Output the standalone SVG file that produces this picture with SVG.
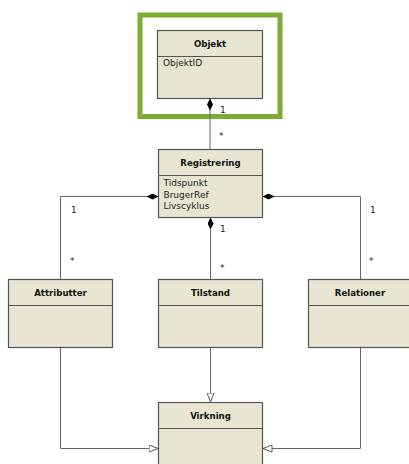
<svg xmlns="http://www.w3.org/2000/svg" width="409" height="464" viewBox="0 0 409 464">
<style>
.box{fill:#E8E5D3;stroke:#555;stroke-width:1.2}
.div{stroke:#555;stroke-width:1.2}
.hd{font-family:"DejaVu Sans",Verdana,sans-serif;font-weight:bold;font-size:8.6px;fill:#111;text-anchor:middle}
.at{font-family:"DejaVu Sans",Verdana,sans-serif;font-size:9px;fill:#222}
.ml{font-family:"DejaVu Sans",Verdana,sans-serif;font-size:9px;fill:#222}
.ln{fill:none;stroke:#666;stroke-width:1}
</style>
<defs>
<marker id="dia" viewBox="0 0 12 6" refX="0" refY="3" markerWidth="12" markerHeight="6" markerUnits="userSpaceOnUse" orient="auto">
<path d="M0,3 L6,0 L12,3 L6,6 Z" fill="#000"/>
</marker>
<marker id="tri" viewBox="0 0 10 8" refX="10" refY="4" markerWidth="10" markerHeight="8" markerUnits="userSpaceOnUse" orient="auto">
<path d="M0.5,0.5 L9.5,4 L0.5,7.5 Z" fill="#fff" stroke="#555" stroke-width="1"/>
</marker>
</defs>
<rect x="140" y="15" width="140" height="101.5" fill="none" stroke="#7BAD33" stroke-width="5"/>
<g id="connectors">
<path class="ln" d="M210,98.5 L210,149.5" marker-start="url(#dia)"/>
<path class="ln" d="M158.5,196.5 L60.5,196.5 L60.5,279.5" marker-start="url(#dia)"/>
<path class="ln" d="M262.5,196.5 L360.5,196.5 L360.5,279.5" marker-start="url(#dia)"/>
<path class="ln" d="M210.5,217.5 L210.5,279.5" marker-start="url(#dia)"/>
<path class="ln" d="M210.5,347.5 L210.5,402.5" marker-end="url(#tri)"/>
<path class="ln" d="M60.5,347.5 L60.5,448.5 L158.5,448.5" marker-end="url(#tri)"/>
<path class="ln" d="M360.5,347.5 L360.5,448.5 L262.5,448.5" marker-end="url(#tri)"/>
<text class="ml" x="220" y="112.5">1</text>
<text class="ml" x="219" y="139">*</text>
<text class="ml" x="220" y="232">1</text>
<text class="ml" x="220" y="271">*</text>
<text class="ml" x="71" y="213">1</text>
<text class="ml" x="70" y="264">*</text>
<text class="ml" x="370" y="213">1</text>
<text class="ml" x="369" y="264">*</text>
</g>
<g id="objekt">
<rect class="box" x="157.5" y="30.5" width="105" height="68"/>
<line class="div" x1="157.5" y1="56.5" x2="262.5" y2="56.5"/>
<text class="hd" x="210" y="47">Objekt</text>
<text class="at" x="163" y="65.5">ObjektID</text>
</g>
<g id="registrering">
<rect class="box" x="158.5" y="149.5" width="104" height="68"/>
<line class="div" x1="158.5" y1="175.5" x2="262.5" y2="175.5"/>
<text class="hd" x="210.5" y="166">Registrering</text>
<text class="at" x="163.5" y="186">Tidspunkt</text>
<text class="at" x="163.5" y="197.5">BrugerRef</text>
<text class="at" x="163.5" y="209">Livscyklus</text>
</g>
<g id="attributter">
<rect class="box" x="8.5" y="279.5" width="104" height="68"/>
<line class="div" x1="8.5" y1="305.5" x2="112.5" y2="305.5"/>
<text class="hd" x="60.5" y="296">Attributter</text>
</g>
<g id="tilstand">
<rect class="box" x="158.5" y="279.5" width="104" height="68"/>
<line class="div" x1="158.5" y1="305.5" x2="262.5" y2="305.5"/>
<text class="hd" x="210.5" y="296">Tilstand</text>
</g>
<g id="relationer">
<rect class="box" x="308.5" y="279.5" width="104" height="68"/>
<line class="div" x1="308.5" y1="305.5" x2="412.5" y2="305.5"/>
<text class="hd" x="360" y="296">Relationer</text>
</g>
<g id="virkning">
<rect class="box" x="158.5" y="402.5" width="104" height="68"/>
<line class="div" x1="158.5" y1="428.5" x2="262.5" y2="428.5"/>
<text class="hd" x="210.5" y="419">Virkning</text>
</g>
</svg>
